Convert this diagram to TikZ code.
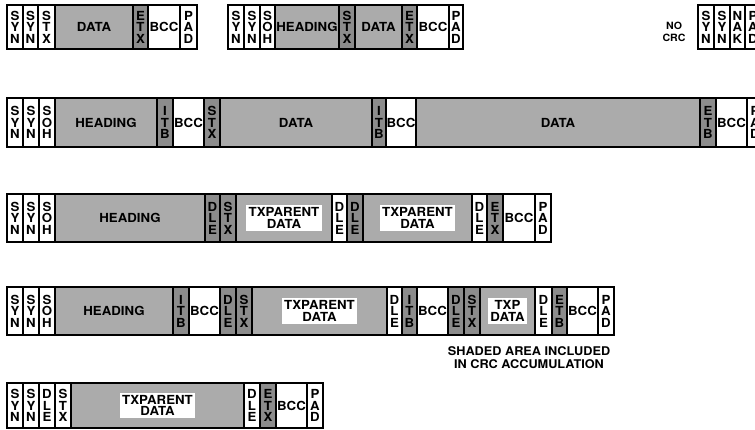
\documentclass[tikz,border=0pt]{standalone}
\usepackage{fontspec}
\setmainfont{TeX Gyre Heros}[FakeStretch=1.06]
\tikzset{
 frm/.style={draw=black, line width=1.2pt},
 wcell/.style={frm, fill=white},
 scell/.style={frm, fill=black!33},
 ccell/.style={frm, fill=black!45},
 outer/.style={draw=black, line width=1.8pt},
 lbl/.style={font=\fontsize{12.5}{11.5}\selectfont\bfseries, align=center, inner sep=0pt},
 tlbl/.style={lbl, fill=white, inner sep=2.5pt},
 note/.style={font=\fontsize{12}{13}\selectfont\bfseries, align=center, inner sep=0pt},
 smallnote/.style={font=\fontsize{10}{12}\selectfont\bfseries, align=center, inner sep=0pt},
}
\newcommand\fcell[5]{%
 \path[#4] (#2,\ytop) rectangle (#3,\ybot);
 \node[lbl] (#1) at ({(#2+#3)/2},{(\ytop+\ybot)/2}) {#5};}
\newcommand\tcell[5]{%
 \path[#4] (#2,\ytop) rectangle (#3,\ybot);
 \node[tlbl] (#1) at ({(#2+#3)/2},{(\ytop+\ybot)/2}) {#5};}
\begin{document}
\begin{tikzpicture}[x=1pt,y=-1pt]
\useasboundingbox (0,0) rectangle (755,430);
\clip (0,0) rectangle (755,430);
% ---------- Row 1 ----------
\def\ytop{5}\def\ybot{49}
\fcell{a1}{7}{23}{wcell}{S\\Y\\N}
\fcell{a2}{23}{38}{wcell}{S\\Y\\N}
\fcell{a3}{38}{55}{wcell}{S\\T\\X}
\fcell{a4}{55}{133}{scell}{DATA}
\fcell{a5}{133}{148}{ccell}{E\\T\\X}
\fcell{a6}{148}{180}{wcell}{BCC}
\fcell{a7}{180}{197}{wcell}{P\\A\\D}
\draw[outer] (7,\ytop) rectangle (197,\ybot);
\fcell{b1}{228}{244}{wcell}{S\\Y\\N}
\fcell{b2}{244}{260}{wcell}{S\\Y\\N}
\fcell{b3}{260}{275}{wcell}{S\\O\\H}
\fcell{b4}{275}{339}{scell}{HEADING}
\fcell{b5}{339}{355}{ccell}{S\\T\\X}
\fcell{b6}{355}{402}{scell}{DATA}
\fcell{b7}{402}{417}{ccell}{E\\T\\X}
\fcell{b8}{417}{449}{wcell}{BCC}
\fcell{b9}{449}{463}{wcell}{P\\A\\D}
\draw[outer] (228,\ytop) rectangle (463,\ybot);
\node[smallnote] (nocrc) at (674,31.5) {NO\\CRC};
\fcell{c1}{698}{714}{wcell}{S\\Y\\N}
\fcell{c2}{714}{730}{wcell}{S\\Y\\N}
\fcell{c3}{730}{745}{wcell}{N\\A\\K}
\fcell{c4}{745}{761}{wcell}{P\\A\\D}
\draw[outer] (698,\ytop) rectangle (761,\ybot);
% ---------- Row 2 ----------
\def\ytop{98}\def\ybot{147}
\fcell{d1}{7}{23}{wcell}{S\\Y\\N}
\fcell{d2}{23}{39}{wcell}{S\\Y\\N}
\fcell{d3}{39}{55}{wcell}{S\\O\\H}
\fcell{d4}{55}{157}{scell}{HEADING}
\fcell{d5}{157}{173}{ccell}{I\\T\\B}
\fcell{d6}{173}{204}{wcell}{BCC}
\fcell{d7}{204}{220}{ccell}{S\\T\\X}
\fcell{d8}{220}{372}{scell}{DATA}
\fcell{d9}{372}{386}{ccell}{I\\T\\B}
\fcell{d10}{386}{416}{wcell}{BCC}
\fcell{d11}{416}{700}{scell}{DATA}
\fcell{d12}{700}{716}{ccell}{E\\T\\B}
\fcell{d13}{716}{747}{wcell}{BCC}
\fcell{d14}{747}{763}{wcell}{P\\A\\D}
\draw[outer] (7,\ytop) rectangle (763,\ybot);
% ---------- Row 3 ----------
\def\ytop{194}\def\ybot{242}
\fcell{e1}{7}{23}{wcell}{S\\Y\\N}
\fcell{e2}{23}{39}{wcell}{S\\Y\\N}
\fcell{e3}{39}{55}{wcell}{S\\O\\H}
\fcell{e4}{55}{205}{scell}{HEADING}
\fcell{e5}{205}{220}{ccell}{D\\L\\E}
\fcell{e6}{220}{236}{ccell}{S\\T\\X}
\tcell{e7}{236}{332}{scell}{TXPARENT\\DATA}
\fcell{e8}{332}{347}{wcell}{D\\L\\E}
\fcell{e9}{347}{363}{ccell}{D\\L\\E}
\tcell{e10}{363}{472}{scell}{TXPARENT\\DATA}
\fcell{e11}{472}{487}{wcell}{D\\L\\E}
\fcell{e12}{487}{503}{ccell}{E\\T\\X}
\fcell{e13}{503}{535}{wcell}{BCC}
\fcell{e14}{535}{551}{wcell}{P\\A\\D}
\draw[outer] (7,\ytop) rectangle (551,\ybot);
% ---------- Row 4 ----------
\def\ytop{287}\def\ybot{335}
\fcell{f1}{7}{23}{wcell}{S\\Y\\N}
\fcell{f2}{23}{39}{wcell}{S\\Y\\N}
\fcell{f3}{39}{55}{wcell}{S\\O\\H}
\fcell{f4}{55}{173}{scell}{HEADING}
\fcell{f5}{173}{189}{ccell}{I\\T\\B}
\fcell{f6}{189}{220}{wcell}{BCC}
\fcell{f7}{220}{236}{ccell}{D\\L\\E}
\fcell{f8}{236}{252}{ccell}{S\\T\\X}
\tcell{f9}{252}{387}{scell}{TXPARENT\\DATA}
\fcell{f10}{387}{402}{wcell}{D\\L\\E}
\fcell{f11}{402}{417}{ccell}{I\\T\\B}
\fcell{f12}{417}{448}{wcell}{BCC}
\fcell{f13}{448}{464}{ccell}{D\\L\\E}
\fcell{f14}{464}{480}{ccell}{S\\T\\X}
\tcell{f15}{480}{535}{scell}{TXP\\DATA}
\fcell{f16}{535}{552}{wcell}{D\\L\\E}
\fcell{f17}{552}{567}{ccell}{E\\T\\B}
\fcell{f18}{567}{598}{wcell}{BCC}
\fcell{f19}{598}{614}{wcell}{P\\A\\D}
\draw[outer] (7,\ytop) rectangle (614,\ybot);
\node[note] (shaded) at (529,357.5) {SHADED AREA INCLUDED\\IN CRC ACCUMULATION};
% ---------- Row 5 ----------
\def\ytop{383}\def\ybot{428}
\fcell{g1}{7}{23}{wcell}{S\\Y\\N}
\fcell{g2}{23}{39}{wcell}{S\\Y\\N}
\fcell{g3}{39}{55}{wcell}{D\\L\\E}
\fcell{g4}{55}{71}{wcell}{S\\T\\X}
\tcell{g5}{71}{244}{scell}{TXPARENT\\DATA}
\fcell{g6}{244}{260}{wcell}{D\\L\\E}
\fcell{g7}{260}{276}{ccell}{E\\T\\X}
\fcell{g8}{276}{307}{wcell}{BCC}
\fcell{g9}{307}{323}{wcell}{P\\A\\D}
\draw[outer] (7,\ytop) rectangle (323,\ybot);
\end{tikzpicture}
\end{document}
